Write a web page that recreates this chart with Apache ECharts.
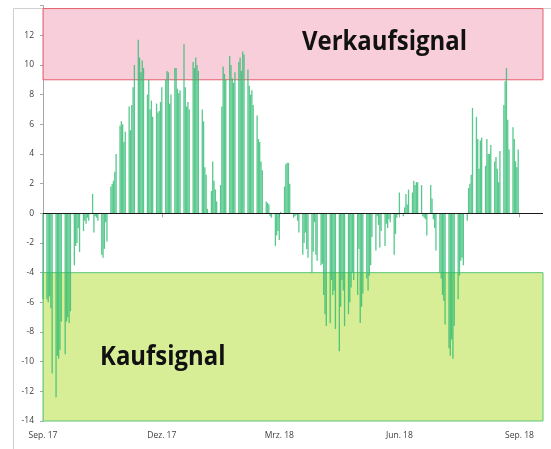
<!DOCTYPE html>
<html>
<head>
<meta charset="utf-8">
<script src="https://cdn.jsdelivr.net/npm/echarts@6/dist/echarts.min.js"></script>
<style>html,body{margin:0;padding:0;background:#fff}#c{width:551px;height:449px}</style>
</head>
<body>
<div id="c"></div>
<script>
// ---- data ----
const firstDay = [2017, 8, 1]; // 1 Sep 2017, first business day of the series
const values = [
  -5.8,
  -5.8, -6.0, -5.6, -6.4, -10.8,
  -12.4, -9.6, -9.8, -9.2, -7.3,
  -9.5, -7.3, -7.0, -7.4, -6.6,
  -3.5, -2.2, -2.0, -1.0, -2.6,
  -1.2, -0.5, -0.7, -0.3, -0.5,
  1.3, -1.3, -0.2, -0.3, -0.5,
  -2.8, -3.0, -2.4, -0.6, -1.9,
  1.8, 2.0, 2.2, 2.8, 4.0,
  5.9, 6.2, 6.0, 4.8, 5.5,
  7.2, 5.6, 7.3, 8.5, 10.0,
  11.7, 10.5, 9.5, 10.3, 9.8,
  8.0, 9.0, 7.0, 7.6, 6.5,
  7.4, 6.8, 6.9, 7.5, 8.5,
  9.0, 9.6, 9.5, 7.4, 8.0,
  9.8, 9.8, 8.4, 8.1, 8.3,
  11.4, 8.5, 7.2, 7.5, 7.0,
  10.2, 9.8, 10.5, 10.0, 9.6,
  7.0, 6.2, 3.1, 2.6, 0.3,
  1.5, 3.5, 2.2, 1.6, 0.8,
  1.9, 7.2, 9.9, 9.4, 9.0,
  10.6, 10.0, 9.1, 8.8, 9.5,
  10.2, 10.5, 9.6, 10.9, 10.7,
  9.7, 8.6, 8.0, 8.3, 7.3,
  6.6, 5.0, 4.8, 3.5, 2.9,
  0.8, 0.7, 0.6, -0.2, -0.3,
  -2.2, -1.5, -1.2, -1.8, 0.1,
  1.8, 3.3, 3.4, 3.4, 2.0,
  -0.3, -0.2, -0.1, -0.5, -1.3,
  -2.8, -2.0, -1.3, -2.4, -3.0,
  -4.0, -2.6, -0.6, -2.8, -3.2,
  -3.5, -3.4, -5.5, -6.8, -7.6,
  -7.4, -4.5, -5.5, -5.2, -7.8,
  -9.3, -6.3, -4.5, -5.2, -7.6,
  -6.8, -6.0, -5.0, -4.0, -4.5,
  -5.5, -2.4, -7.4, -6.3, -5.4,
  -4.4, -5.2, -4.2, -3.5, -1.6,
  -2.5, -0.2, -0.8, -2.3, -1.2,
  -2.2, -0.7, -1.0, -0.4, -0.6,
  -2.8, -1.4, -0.3, -0.1, 1.4,
  -0.2, 0.4, 1.3, 0.6, 1.6,
  1.4, 2.2, 1.9, 2.1, 2.1,
  1.9, -0.2, -0.3, -0.4, -1.5,
  1.9, 1.0, -0.4, -1.0, -2.5,
  -4.0, -4.4, -5.5, -5.9, -7.5,
  -9.1, -9.6, -8.5, -9.8, -7.6,
  -5.8, -4.2, -3.2, -3.0, -3.5,
  -0.5, 1.7, 2.0, 2.6, 7.1,
  6.5, 5.0, 3.0, 4.9, 5.1,
  3.2, 5.0, 4.0, 4.0, 4.6,
  3.5, 3.8, 3.0, 2.1, 4.2,
  7.3, 8.9, 9.8, 6.3, 4.3,
  5.8, 5.0, 3.5, 3.1, 4.3
];
const tickDates = [[2017, 8, 1], [2017, 11, 1], [2018, 2, 1], [2018, 5, 1], [2018, 8, 1]];
const tickLabels = ['Sep. 17', 'Dez. 17', 'Mrz. 18', 'Jun. 18', 'Sep. 18'];
const axisStart = [2017, 8, 1];
const axisEnd = [2018, 8, 19];
const sellLevel = 9;      // Verkaufsignal threshold
const sellTop = 13.8;
const buyLevel = -4;      // Kaufsignal threshold
const buyBottom = -14;
const yMin = -14, yMax = 14, yStep = 2;

// ---- build ----
const ts = a => new Date(a[0], a[1], a[2]).getTime();
const barData = [];
{
  let d = new Date(firstDay[0], firstDay[1], firstDay[2]);
  for (let i = 0; i < values.length; ) {
    const wd = d.getDay();
    if (wd !== 0 && wd !== 6) { barData.push([d.getTime(), values[i]]); i++; }
    d = new Date(d.getFullYear(), d.getMonth(), d.getDate() + 1);
  }
}
const tickTs = tickDates.map(ts);
const xMin = ts(axisStart), xMax = ts(axisEnd);

const chart = echarts.init(document.getElementById('c'), null, {renderer: 'canvas'});
chart.setOption({
  animation: false,
  backgroundColor: '#ffffff',
  grid: {left: 43, right: 8, top: 5.6, bottom: 28, containLabel: false},
  xAxis: {
    type: 'value', min: xMin, max: xMax, scale: true,
    axisLine: {show: false},
    splitLine: {show: false},
    axisTick: {show: true, customValues: tickTs, length: 4, inside: false, lineStyle: {color: '#a6a6a6'}},
    axisLabel: {
      customValues: tickTs,
      formatter: v => { const i = tickTs.indexOf(v); return i >= 0 ? tickLabels[i] : ''; },
      color: '#404040', fontFamily: '"Open Sans", sans-serif', fontSize: 8.5, margin: 10,
      hideOverlap: false
    }
  },
  yAxis: {
    type: 'value', min: yMin, max: yMax, interval: yStep,
    axisLine: {show: true, lineStyle: {color: '#a6a6a6'}},
    axisTick: {show: true, length: 3, lineStyle: {color: '#a6a6a6'}},
    splitLine: {show: false},
    axisLabel: {
      formatter: v => (v === yMax ? '' : String(v)),
      color: '#404040', fontFamily: '"Open Sans", sans-serif', fontSize: 8.5, margin: 9
    }
  },
  series: [
    {
      type: 'bar', name: 'Signal', data: barData, barWidth: 1.3, z: 2,
      itemStyle: {color: 'rgba(46,186,112,0.8)'},
      markLine: {
        silent: true, symbol: 'none', label: {show: false},
        lineStyle: {color: '#1a1a1a', width: 1.2, type: 'solid'},
        data: [{yAxis: 0}]
      }
    },
    {
      type: 'line', name: 'Zonen', data: [], z: 5, silent: true,
      markArea: {
        silent: true,
        label: {show: false},
        data: [
          [{xAxis: xMin, yAxis: sellLevel, itemStyle: {color: 'rgba(244,190,206,0.75)', borderColor: '#e8606f', borderWidth: 1}},
           {xAxis: xMax, yAxis: sellTop}],
          [{xAxis: xMin, yAxis: buyBottom, itemStyle: {color: 'rgba(200,230,110,0.72)', borderColor: '#5cc878', borderWidth: 1}},
           {xAxis: xMax, yAxis: buyLevel}]
        ]
      }
    }
  ],
  graphic: [
    {type: 'polyline', silent: true, z: 0, shape: {points: [[13.5, 449], [13.5, 8.5], [551, 8.5]]}, style: {stroke: '#cfcfcf', lineWidth: 1, fill: null}},
    {type: 'text', z: 100, left: 302, top: 30, scaleX: 0.92,
      style: {text: 'Verkaufsignal', font: 'bold 26px "Open Sans", sans-serif', fill: '#111'}},
    {type: 'text', z: 100, left: 100, top: 345, scaleX: 0.92,
      style: {text: 'Kaufsignal', font: 'bold 26px "Open Sans", sans-serif', fill: '#111'}}
  ]
});
</script>
</body>
</html>
